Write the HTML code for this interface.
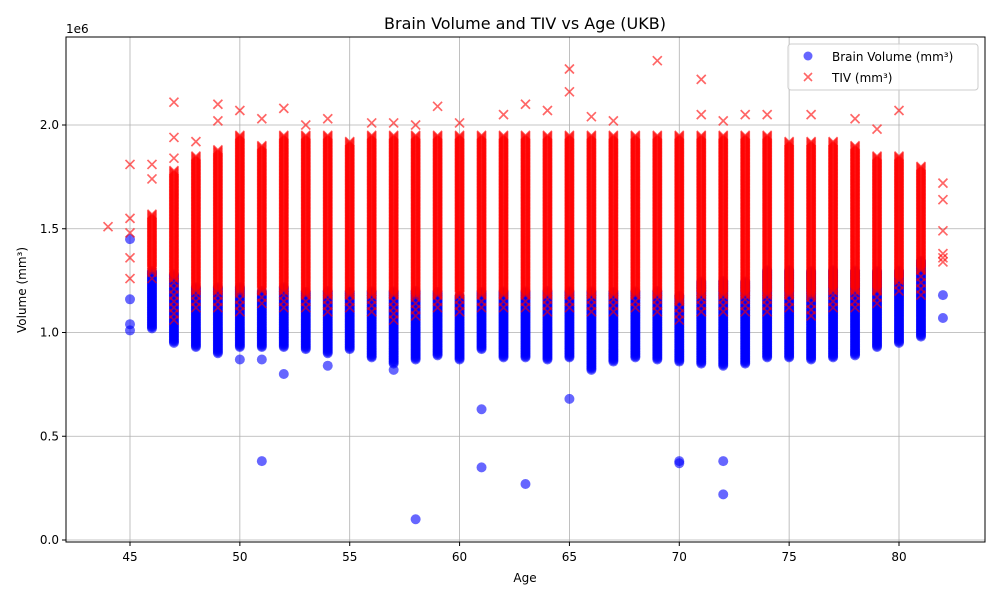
<!DOCTYPE html>
<html><head><meta charset="utf-8"><style>
body{margin:0;background:#fff;}
svg text{font-family:"DejaVu Sans","Liberation Sans",sans-serif;}
</style></head><body>
<svg id="chart" width="1000" height="600" xmlns="http://www.w3.org/2000/svg">
<rect width="1000" height="600" fill="#fff"/>
<text x="525" y="29" text-anchor="middle" font-size="16">Brain Volume and TIV vs Age (UKB)</text>
<g id="grid"></g>
<g id="brain"></g>
<g id="tiv"></g>
<rect x="66" y="37" width="919" height="505" fill="none" stroke="#000" stroke-width="1"/>
<g id="ticks"></g>
<text x="66" y="33" font-size="12">1e6</text>
<text x="525" y="582" text-anchor="middle" font-size="12">Age</text>
<text transform="translate(26,290) rotate(-90)" text-anchor="middle" font-size="12">Volume (mm³)</text>
<g>
<rect x="788" y="44" width="190" height="46" rx="3" fill="#fff" fill-opacity="0.8" stroke="#ccc"/>
<g>
<circle cx="808" cy="56" r="4.5" fill="rgba(0,0,255,0.6)"/>
<text x="832" y="61" font-size="12">Brain Volume (mm³)</text></g>
<g>
<path d="M804,73 l8,8 M812,73 l-8,8" stroke="rgba(255,0,0,0.6)" stroke-width="1.6"/>
<text x="832" y="82" font-size="12">TIV (mm³)</text></g>
</g>
</svg>
<script>
const ages=[46,47,48,49,50,51,52,53,54,55,56,57,58,59,60,61,62,63,64,65,66,67,68,69,70,71,72,73,74,75,76,77,78,79,80,81];
const brainLow=[1.02,0.95,0.93,0.9,0.93,0.93,0.93,0.92,0.9,0.92,0.88,0.85,0.87,0.89,0.87,0.92,0.88,0.88,0.87,0.88,0.82,0.86,0.88,0.87,0.86,0.85,0.84,0.85,0.88,0.88,0.87,0.88,0.89,0.93,0.95,0.98];
const brainHigh=[1.3,1.28,1.22,1.22,1.22,1.2,1.22,1.2,1.2,1.2,1.2,1.2,1.2,1.2,1.18,1.2,1.2,1.2,1.2,1.2,1.2,1.2,1.2,1.2,1.18,1.25,1.25,1.25,1.3,1.3,1.3,1.3,1.3,1.3,1.3,1.35];
const tivLow=[1.3,1.26,1.2,1.2,1.2,1.2,1.2,1.18,1.18,1.18,1.18,1.18,1.18,1.18,1.18,1.18,1.18,1.18,1.18,1.18,1.18,1.18,1.18,1.18,1.15,1.18,1.18,1.18,1.18,1.18,1.18,1.2,1.2,1.2,1.25,1.3];
const tivTail=[1.26,1.06,1.12,1.12,1.1,1.14,1.12,1.12,1.1,1.12,1.1,1.06,1.08,1.12,1.1,1.12,1.12,1.12,1.1,1.12,1.1,1.1,1.12,1.1,1.06,1.1,1.1,1.1,1.1,1.12,1.08,1.12,1.12,1.14,1.2,1.18];
const tivHigh=[1.57,1.78,1.85,1.88,1.95,1.9,1.95,1.95,1.95,1.92,1.95,1.95,1.95,1.95,1.95,1.95,1.95,1.95,1.95,1.95,1.95,1.95,1.95,1.95,1.95,1.95,1.95,1.95,1.95,1.92,1.92,1.92,1.9,1.85,1.85,1.8];
const brainOutAge=[45,45,45,45,50,51,51,52,54,57,58,61,61,63,65,70,70,72,72,82,82];
const brainOutVal=[1.45,1.16,1.04,1.01,0.87,0.87,0.38,0.8,0.84,0.82,0.1,0.63,0.35,0.27,0.68,0.38,0.37,0.38,0.22,1.18,1.07];
const tivOutAge=[44,45,45,45,45,45,46,46,47,47,47,48,49,49,50,51,52,53,54,56,57,58,59,60,62,63,64,65,65,66,67,69,71,71,72,73,74,76,78,79,80,82,82,82,82,82,82];
const tivOutVal=[1.51,1.81,1.55,1.48,1.36,1.26,1.74,1.81,1.84,1.94,2.11,1.92,2.1,2.02,2.07,2.03,2.08,2.0,2.03,2.01,2.01,2.0,2.09,2.01,2.05,2.1,2.07,2.16,2.27,2.04,2.02,2.31,2.22,2.05,2.02,2.05,2.05,2.05,2.03,1.98,2.07,1.72,1.64,1.49,1.38,1.36,1.34];
const xTicks=[45,50,55,60,65,70,75,80];
const yTicks=[0,0.5,1.0,1.5,2.0];
const yTickLabels=["0.0","0.5","1.0","1.5","2.0"];

const NS="http://www.w3.org/2000/svg";
const X=a=>130+(a-45)*(769/35);
const Y=v=>540-v*207.5;
function mk(t,attrs,parent){const e=document.createElementNS(NS,t);for(const k in attrs)e.setAttribute(k,attrs[k]);parent.appendChild(e);return e;}
const grid=document.getElementById('grid'),ticks=document.getElementById('ticks');
xTicks.forEach(t=>{
 const l=mk('line',{x1:X(t),x2:X(t),y1:37,y2:542,stroke:'#b0b0b0','stroke-width':0.8},grid);
 
 
 mk('line',{x1:X(t),x2:X(t),y1:542,y2:546,stroke:'#000'},ticks);
 const tx=mk('text',{x:X(t),y:561,'text-anchor':'middle','font-size':12},ticks);tx.textContent=t;
 
 
});
yTicks.forEach((t,i)=>{
 const l=mk('line',{x1:66,x2:985,y1:Y(t),y2:Y(t),stroke:'#b0b0b0','stroke-width':0.8},grid);
 
 
 mk('line',{x1:62,x2:66,y1:Y(t),y2:Y(t),stroke:'#000'},ticks);
 const tx=mk('text',{x:59,y:Y(t)+4,'text-anchor':'end','font-size':12},ticks);tx.textContent=yTickLabels[i];
 
 
});
const bg=document.getElementById('brain'),tg=document.getElementById('tiv');
function dot(a,v){const c=mk('circle',{cx:X(a),cy:Y(v),r:5,fill:'rgba(0,0,255,0.6)'},bg);
 
 }
function cross(a,v){const x=X(a),y=Y(v);const p=mk('path',{d:`M${x-4.5},${y-4.5}l9,9M${x+4.5},${y-4.5}l-9,9`,stroke:'rgba(255,0,0,0.6)','stroke-width':1.7},tg);
 
 }
ages.forEach((a,i)=>{
 for(let v=brainLow[i];v<=brainHigh[i]+1e-9;v+=0.006)dot(a,v);
 for(let v=tivLow[i];v<=tivHigh[i]+1e-9;v+=0.005)cross(a,v);
 for(let v=tivTail[i];v<tivLow[i];v+=0.03)cross(a,v);
});
brainOutAge.forEach((a,i)=>dot(a,brainOutVal[i]));
tivOutAge.forEach((a,i)=>cross(a,tivOutVal[i]));
</script>
</body></html>
